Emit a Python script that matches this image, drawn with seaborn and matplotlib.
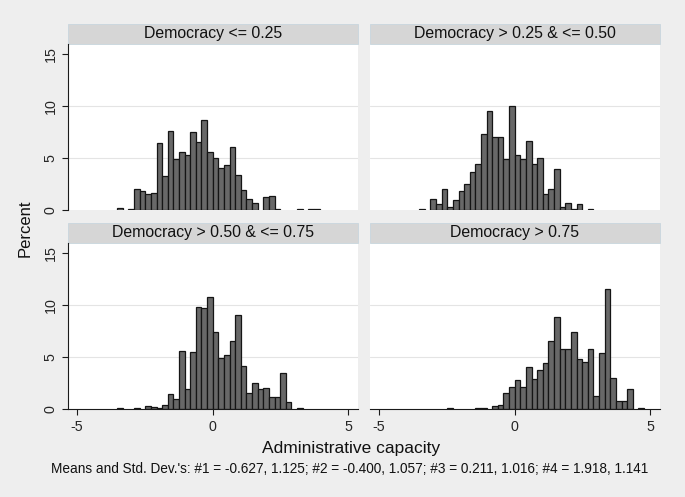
import numpy as np
import pandas as pd
import seaborn as sns
import matplotlib.pyplot as plt
from matplotlib.patches import Rectangle

sns.set_style("white")
plt.rcParams['font.family'] = ['Liberation Sans', 'DejaVu Sans']

# common bins (Stata style: start at overall min, 41 bins)
bin_start = -3.52
bin_width = 0.2045
n_bins = 41

titles = ["Democracy <= 0.25", "Democracy > 0.25 & <= 0.50",
          "Democracy > 0.50 & <= 0.75", "Democracy > 0.75"]

# percent per bin
pct_1 = [0.16, 0, 0.1, 1.99, 1.83, 1.57, 1.6, 6.41, 3.27, 7.6, 4.9, 5.55, 5.3, 7.53,
         6.5, 8.65, 5.55, 5.03, 4.0, 4.33, 6.09, 3.33, 1.96, 1.09, 0.67, 0, 1.22,
         1.38, 0.05, 0, 0, 0, 0.05, 0, 0.05, 0.05, 0, 0, 0, 0, 0]
pct_2 = [0.05, 0, 1.03, 0.6, 2.0, 0.3, 0.97, 1.8, 2.48, 3.68, 4.42, 7.29, 9.55, 6.97,
         7.03, 4.94, 10.0, 5.32, 4.87, 6.65, 4.45, 4.97, 1.55, 2.0, 3.97, 0.3, 0.71,
         0.06, 0.55, 0, 0.05, 0, 0, 0, 0, 0, 0, 0, 0, 0, 0]
pct_3 = [0.05, 0, 0, 0.05, 0, 0.25, 0.22, 0.1, 0.38, 1.4, 0.95, 5.58, 1.92, 5.5,
         9.78, 9.68, 10.74, 7.44, 4.87, 5.19, 6.54, 9.07, 4.13, 1.5, 2.47, 1.89,
         1.99, 1.19, 1.19, 3.43, 0.7, 0, 0.08, 0, 0, 0, 0, 0, 0, 0, 0]
pct_4 = [0, 0, 0, 0, 0, 0.08, 0, 0, 0, 0, 0.05, 0.1, 0, 0.26, 0.38, 1.5, 2.15, 2.79,
         2.1, 4.07, 2.85, 3.75, 4.46, 6.57, 8.88, 5.77, 5.77, 7.44, 4.78, 4.55, 5.74,
         1.25, 5.35, 11.54, 2.95, 0.77, 0.77, 1.92, 0, 0, 0.05]

note = ("Means and Std. Dev.'s: #1 = -0.627, 1.125; #2 = -0.400, 1.057; "
        "#3 = 0.211, 1.016; #4 = 1.918, 1.141")

edges = bin_start + bin_width * np.arange(n_bins + 1)
centers = (edges[:-1] + edges[1:]) / 2

fig = plt.figure(figsize=(6.85, 4.97), dpi=100)
fig.patch.set_facecolor("#eeeeee")

W, H = 685, 497
# panel boxes in pixels: left, top, width, height
boxes = [(68, 44, 290, 166), (370, 44, 290, 166),
         (68, 243, 290, 166), (370, 243, 290, 166)]

for i, (pct, title, box) in enumerate(zip([pct_1, pct_2, pct_3, pct_4], titles, boxes)):
    l, t, w, h = box
    ax = fig.add_axes([l / W, 1 - (t + h) / H, w / W, h / H])
    ax.set_facecolor("white")
    df = pd.DataFrame({"x": centers, "pct": pct})
    df = df[df["pct"] > 0]
    sns.histplot(data=df, x="x", weights="pct", binwidth=bin_width,
                 binrange=(edges[0], edges[-1] - bin_width / 2), ax=ax,
                 color="#686868", edgecolor="#151515", linewidth=0.9, alpha=1)
    for p in list(ax.patches):
        if p.get_height() == 0:
            p.remove()
    for yv in [5, 10]:
        ax.axhline(yv, color="#e4e4e4", lw=0.8, zorder=0)
    ax.set_xlim(-5.33, 5.35)
    ax.set_ylim(0, 15.95)
    ax.set_xlabel("")
    ax.set_ylabel("")
    for s in ax.spines.values():
        s.set_visible(False)
    left_col = i % 2 == 0
    bottom_row = i >= 2
    if left_col:
        ax.spines["left"].set_visible(True)
        ax.spines["left"].set_color("#1a1a1a")
        ax.spines["left"].set_linewidth(0.8)
        ax.set_yticks([0, 5, 10, 15])
        ax.tick_params(axis="y", left=True, length=4, width=0.8, color="#1a1a1a",
                       labelsize=10.3, labelrotation=90, pad=3.5)
        for lab in ax.get_yticklabels():
            lab.set_va("center")
    else:
        ax.set_yticks([])
    if bottom_row:
        ax.spines["bottom"].set_visible(True)
        ax.spines["bottom"].set_color("#1a1a1a")
        ax.spines["bottom"].set_linewidth(0.8)
        ax.set_xticks([-5, 0, 5])
        ax.set_xticklabels(["-5", "0", "5"])
        ax.tick_params(axis="x", bottom=True, length=4, width=0.8, color="#1a1a1a",
                       labelsize=10.3, pad=4)
    else:
        ax.set_xticks([])
    # strip header
    sh = 20 / h
    ax.add_patch(Rectangle((0, 1), 1, sh, transform=ax.transAxes, clip_on=False,
                           facecolor="#d6d6d6", edgecolor="#c8d6de", linewidth=0.6))
    ax.text(0.5, 1 + sh / 2, title, transform=ax.transAxes, ha="center",
            va="center", fontsize=11.4, color="#111111")

fig.text(25 / W, 1 - 228 / H, "Percent", rotation=90, ha="center", va="center",
         fontsize=12, color="#111111")
fig.text(351 / W, 1 - 448 / H, "Administrative capacity", ha="center",
         va="center", fontsize=12.5, color="#111111")
fig.text(350 / W, 1 - 469 / H, note, ha="center", va="center", fontsize=9.8,
         color="#111111")

fig.savefig("out.png", dpi=100, facecolor=fig.get_facecolor())
